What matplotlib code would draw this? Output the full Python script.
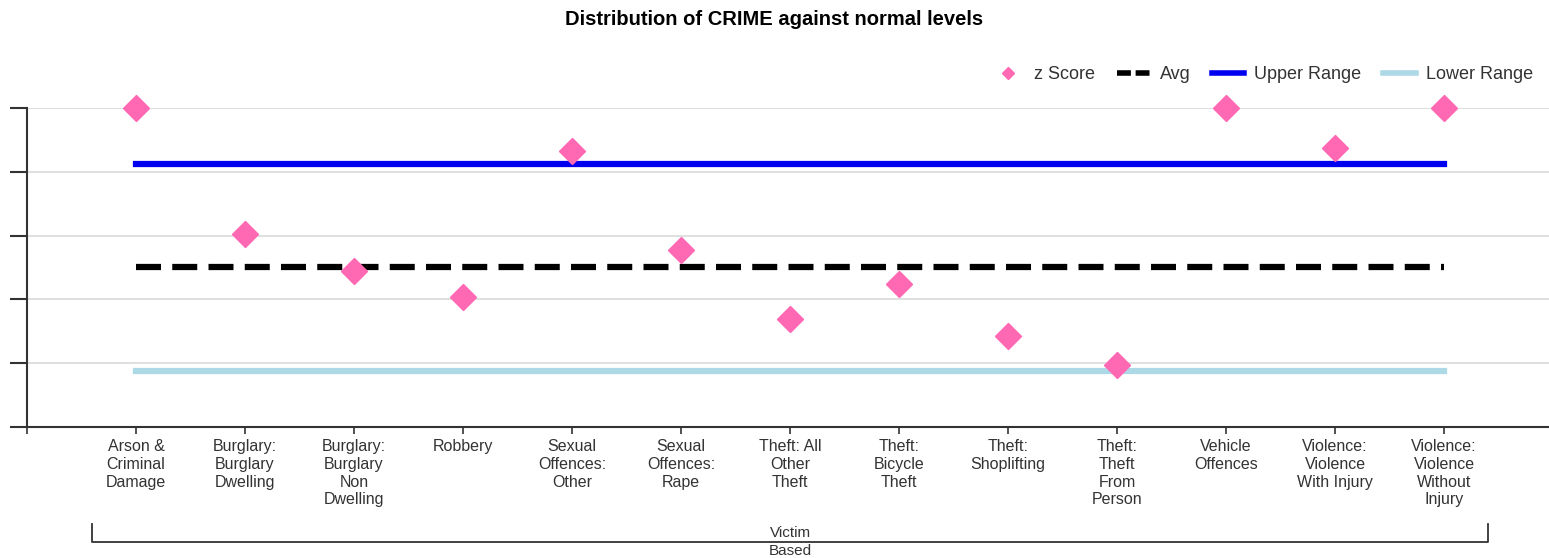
import matplotlib.pyplot as plt
import matplotlib.transforms as mtransforms

plt.rcParams['font.family'] = ['Liberation Sans', 'DejaVu Sans']

categories = ["Arson &\nCriminal\nDamage", "Burglary:\nBurglary\nDwelling", "Burglary:\nBurglary\nNon\nDwelling",
              "Robbery", "Sexual\nOffences:\nOther", "Sexual\nOffences:\nRape", "Theft: All\nOther\nTheft",
              "Theft:\nBicycle\nTheft", "Theft:\nShoplifting", "Theft:\nTheft\nFrom\nPerson", "Vehicle\nOffences",
              "Violence:\nViolence\nWith Injury", "Violence:\nViolence\nWithout\nInjury"]
z_score = [2.5, 0.53, -0.05, -0.46, 1.83, 0.27, -0.81, -0.26, -1.07, -1.53, 2.5, 1.87, 2.5]
avg = [0.0] * 13
upper_range = [1.62] * 13
lower_range = [-1.62] * 13
group_label = "Victim\nBased"

x = list(range(1, len(categories) + 1))

fig = plt.figure(figsize=(15.49, 5.58), dpi=100)
ax = fig.add_axes([27 / 1549, 0.2348, 1 - 27 / 1549, 0.8065 - 0.2348])

ax.plot(x, avg, color="black", linewidth=4.5, dashes=(4, 1.8), label="Avg", zorder=3)
ax.plot(x, upper_range, color="#0000F0", linewidth=4.5, label="Upper Range", zorder=3)
ax.plot(x, lower_range, color="#ADD8E6", linewidth=4.5, label="Lower Range", zorder=3)
ax.plot(x, z_score, linestyle="none", marker="D", markersize=13, color="#FF69B4",
        label="z Score", zorder=4, clip_on=False)

ax.set_xlim(0, 1522 / 109)
ax.set_ylim(-2.5, 2.5)
ax.set_yticks([-2.5, -1.5, -0.5, 0.5, 1.5, 2.5])
ax.set_yticklabels([])
ax.set_xticks([0] + x)
ax.set_xticklabels([""] + categories, fontsize=11.5, color="#333333", linespacing=1.22)
ax.tick_params(axis="y", length=12, width=1.5, color="#333333")
ax.tick_params(axis="x", length=5, width=1.2, color="#333333", pad=4)
ax.grid(axis="y", color="#D9D9D9", linewidth=1.2)
ax.set_axisbelow(True)
for s in ["top", "right"]:
    ax.spines[s].set_visible(False)
for s in ["left", "bottom"]:
    ax.spines[s].set_linewidth(1.5)
    ax.spines[s].set_color("#333333")

# group bracket under the categories
tr = mtransforms.blended_transform_factory(ax.transData, fig.transFigure)
ax.plot([0.6, 0.6, 13.4, 13.4], [0.061, 0.0287, 0.0287, 0.061], color="#333333",
        linewidth=1.3, transform=tr, clip_on=False)
ax.text(7, 0.0287, group_label, transform=tr, ha="center", va="center", fontsize=11,
        color="#333333", linespacing=1.3)

handles, labels = ax.get_legend_handles_labels()
order = [3, 0, 1, 2]
leg = fig.legend([handles[i] for i in order], [labels[i] for i in order], loc="upper right",
                 bbox_to_anchor=(1.0, 0.91), ncol=4, frameon=False, fontsize=13,
                 handlelength=1.8, columnspacing=1.2, handletextpad=0.55, labelcolor="#333333")
leg.legend_handles[0].set_markersize(6)
leg.legend_handles[1].set_dashes((2.5, 0.85))
for h in leg.legend_handles[1:]:
    h.set_linewidth(4)

fig.suptitle("Distribution of CRIME against normal levels", fontsize=14.5, fontweight="bold", y=0.982)

fig.savefig("out.png", dpi=100)
